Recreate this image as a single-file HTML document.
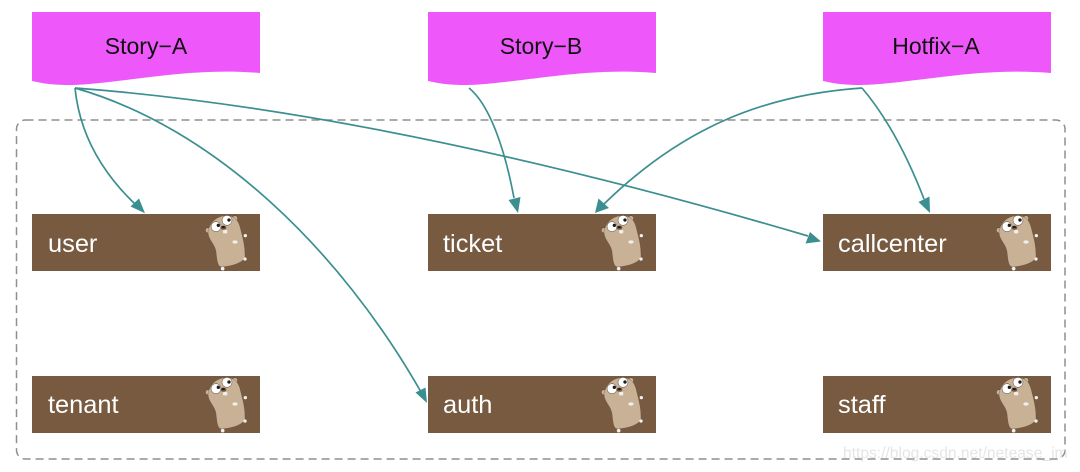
<!DOCTYPE html>
<html>
<head>
<meta charset="utf-8">
<style>
html,body{margin:0;padding:0;background:#fff;width:1080px;height:472px;overflow:hidden}
svg{display:block}
text{font-family:"Liberation Sans",sans-serif}
.n{font-size:25.4px;fill:#fff}
.s{font-size:23px;fill:#111;text-anchor:middle}
.l{fill:none;stroke:#3c8f90;stroke-width:1.7}
.h{fill:#3c8f90}
</style>
</head>
<body>
<svg width="1080" height="472" viewBox="0 0 1080 472" xmlns="http://www.w3.org/2000/svg">
<defs>
<path id="doc" d="M32 12H260V73C225 70 190 72 150 77C110 82 85 85 70 85C55 85 45 84 32 81Z" fill="#ee57fa"/>
<g id="gopher" transform="translate(180 120) scale(.3333)">
<circle cx="84" cy="331" r="8" fill="#c9b196" stroke="#4f4032" stroke-width="1.5"/>
<circle cx="165" cy="295" r="8" fill="#c9b196" stroke="#4f4032" stroke-width="1.5"/>
<path d="M84 335C88 312 105 290 135 287C160 285 174 298 180 320C186 345 196 375 195 410C190 428 160 438 125 441C113 440 111 425 108 395C104 370 84 360 84 335Z" fill="#c9b196" stroke="#5d4c3c" stroke-width="1"/>
<circle cx="196" cy="347" r="5" fill="#f0f0f0"/>
<circle cx="195" cy="417" r="5" fill="#f0f0f0"/>
<circle cx="128" cy="446" r="5.5" fill="#f0f0f0"/>
<ellipse cx="165" cy="366" rx="8" ry="5" fill="#eee"/>
<circle cx="108" cy="320" r="15" fill="#fff" stroke="#4a3f35" stroke-width="1.5"/>
<circle cx="141" cy="301" r="15" fill="#fff" stroke="#4a3f35" stroke-width="1.5"/>
<circle cx="115" cy="316" r="5" fill="#1c1c1c"/>
<circle cx="147" cy="300" r="5" fill="#1c1c1c"/>
<ellipse cx="130" cy="323" rx="9" ry="6" fill="#6c5440"/>
<ellipse cx="130" cy="321" rx="5" ry="3" fill="#1c1c1c"/>
<rect x="129" y="330" width="13" height="10" rx="3" fill="#eee"/>
</g>
<g id="box">
<rect x="32" y="214" width="228" height="57" fill="#775a3f"/>
<use href="#gopher"/>
</g>
</defs>

<rect x="16.5" y="120" width="1048.5" height="339" rx="9" ry="9" fill="none" stroke="#8f8f8f" stroke-width="1.5" stroke-dasharray="8 5"/>

<use href="#doc"/>
<use href="#doc" x="396"/>
<use href="#doc" x="791"/>
<text class="s" x="146" y="54">Story−A</text>
<text class="s" x="541" y="54">Story−B</text>
<text class="s" x="936" y="54">Hotfix−A</text>

<use href="#box"/>
<use href="#box" x="396"/>
<use href="#box" x="791"/>
<use href="#box" y="162"/>
<use href="#box" x="396" y="162"/>
<use href="#box" x="791" y="162"/>

<text class="n" x="48" y="252">user</text>
<text class="n" x="443" y="252">ticket</text>
<text class="n" x="838" y="252">callcenter</text>
<text class="n" x="48" y="413">tenant</text>
<text class="n" x="443" y="413">auth</text>
<text class="n" x="838" y="413">staff</text>

<path class="l" d="M75 88C79 128 97 168 136 205"/>
<polygon class="h" points="145,213.3 130.5,206.5 139,198.5"/>
<path class="l" d="M75 88C215 128 340 250 421 392"/>
<polygon class="h" points="427,403 415.5,392.5 425.5,387.5"/>
<path class="l" d="M75 88C300 105 550 160 808 236"/>
<polygon class="h" points="821,241.5 805.5,243.5 810,232"/>
<path class="l" d="M469 88C490 105 505 150 514 198"/>
<polygon class="h" points="518,213 508.5,200 520.5,197"/>
<path class="l" d="M862 88C760 95 680 130 604 204"/>
<polygon class="h" points="595,213 598.5,198.5 609,208"/>
<path class="l" d="M862 88C885 115 905 150 924 199"/>
<polygon class="h" points="930,213 918.5,202 929.5,196.5"/>

<text x="843" y="458" font-size="15.6" fill="#cfcfcf" fill-opacity=".55">https://blog.csdn.net/netease_im</text>
</svg>
</body>
</html>
